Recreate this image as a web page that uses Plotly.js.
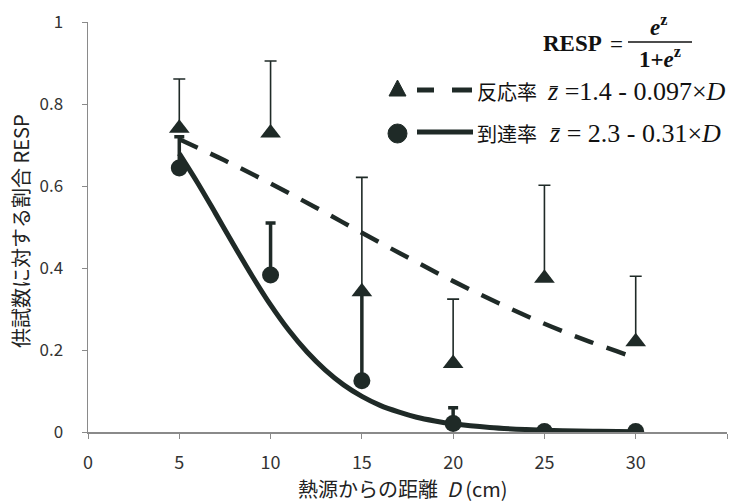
<!DOCTYPE html>
<html><head><meta charset="utf-8">
<script src="https://cdn.plot.ly/plotly-3.0.1.min.js"></script>
<style>html,body{margin:0;padding:0;background:#fff}#c{width:734px;height:502px}</style>
</head><body><div id="c"></div>
<script>
// distances D (cm)
const distances = [5, 10, 15, 20, 25, 30];
// 反応率 (triangles) and upper error ends
const respRate = [0.741, 0.729, 0.342, 0.167, 0.375, 0.220];
const respUpper = [0.861, 0.905, 0.621, 0.324, 0.602, 0.380];
// 到達率 (circles) and upper error ends
const reachRate = [0.644, 0.383, 0.125, 0.021, 0.001, 0.001];
const reachUpper = [0.720, 0.510, 0.340, 0.059, 0.001, 0.001];
// fitted curve 反応率 (dashed)
const dashX = [5, 7.5, 10, 12.5, 15, 17.5, 20, 22.5, 25, 27.5, 30];
const dashY = [0.714, 0.662, 0.606, 0.547, 0.486, 0.426, 0.368, 0.314, 0.264, 0.220, 0.181];
// fitted curve 到達率 (solid)
const solidX = [5, 6, 7, 8, 9, 10, 11, 12, 13, 14, 15, 16, 17, 18, 19, 20, 22, 24, 26, 28, 30];
const solidY = [0.679, 0.608, 0.532, 0.455, 0.380, 0.310, 0.248, 0.195, 0.151, 0.115, 0.087, 0.065, 0.049, 0.036, 0.027, 0.020, 0.011, 0.006, 0.003, 0.0017, 0.0009];
// tick labels
const xTicks = [0, 5, 10, 15, 20, 25, 30, 35];
const yTicks = [0, 0.2, 0.4, 0.6, 0.8, 1];
const yTickText = ['0', '0.2', '0.4', '0.6', '0.8', '1'];

const ink = '#1f2a27';
const W = 734, H = 502, L = 88, R = 7, T = 22, B = 70;
const pw = W - L - R, ph = H - T - B;
const px = v => (v - L) / pw;
const py = v => (H - B - v) / ph;

const traces = [
  {x: dashX, y: dashY, mode: 'lines', line: {color: ink, width: 4.5, dash: '20px,14px', shape: 'spline'}, hoverinfo: 'skip'},
  {x: solidX, y: solidY, mode: 'lines', line: {color: ink, width: 5, shape: 'spline'}, hoverinfo: 'skip'},
  {x: distances, y: reachRate, mode: 'markers',
   marker: {symbol: 'circle', size: 17, color: ink},
   error_y: {type: 'data', symmetric: false, array: reachUpper.map((u, i) => u - reachRate[i]), arrayminus: distances.map(() => 0), color: ink, thickness: 3.5, width: 5}},
  {x: distances, y: respRate, mode: 'markers',
   marker: {symbol: 'triangle-up', size: 18, color: ink},
   error_y: {type: 'data', symmetric: false, array: respUpper.map((u, i) => u - respRate[i]), arrayminus: distances.map(() => 0), color: ink, thickness: 1.6, width: 6}}
];

const serif = 'Liberation Serif, DejaVu Serif, serif';
const sansJ = 'Noto Sans CJK JP, Noto Sans, sans-serif';
const ann = (x, y, text, opts) => Object.assign({xref: 'paper', yref: 'paper', x: px(x), y: py(y), text: text, showarrow: false, xanchor: 'left', yanchor: 'middle'}, opts || {});

const annotations = [
  ann(604, 43, '<b>RESP</b>', {xanchor: 'right', font: {family: serif, size: 23, color: '#111'}}),
  ann(616, 44, '=', {xanchor: 'center', font: {family: serif, size: 23, color: '#111'}}),
  ann(658, 25, '<b><i>e</i><sup>z</sup></b>', {xanchor: 'center', font: {family: serif, size: 23, color: '#111'}}),
  ann(660, 58, '<b>1+<i>e</i><sup>z</sup></b>', {xanchor: 'center', font: {family: serif, size: 23, color: '#111'}}),
  ann(475, 91, '反応率', {font: {family: sansJ, size: 20, color: '#111'}}),
  ann(545, 91, '<i>z̄</i> =1.4 - 0.097×<i>D</i>', {font: {family: serif, size: 26, color: '#111'}}),
  ann(475, 133, '到達率', {font: {family: sansJ, size: 20, color: '#111'}}),
  ann(547, 133, '<i>z̄</i> = 2.3 - 0.31×<i>D</i>', {font: {family: serif, size: 26, color: '#111'}}),
  ann(402, 488, '熱源からの距離  <i>D</i> (cm)', {xanchor: 'center', font: {family: sansJ, size: 20, color: '#222'}}),
  ann(20, 231, '供試数に対する割合 RESP', {xanchor: 'center', textangle: -90, font: {family: sansJ, size: 20, color: '#222'}})
];

const shapes = [
  {type: 'line', xref: 'paper', yref: 'paper', x0: px(628), x1: px(692), y0: py(42), y1: py(42), line: {color: '#111', width: 1.3}},
  {type: 'line', xref: 'paper', yref: 'paper', x0: px(417), x1: px(434), y0: py(90), y1: py(90), line: {color: ink, width: 5}},
  {type: 'line', xref: 'paper', yref: 'paper', x0: px(452), x1: px(472), y0: py(90), y1: py(90), line: {color: ink, width: 5}},
  {type: 'line', xref: 'paper', yref: 'paper', x0: px(417), x1: px(473), y0: py(132), y1: py(132), line: {color: ink, width: 5}},
  {type: 'path', xref: 'paper', yref: 'paper', path: `M ${px(389)} ${py(96)} L ${px(406)} ${py(96)} L ${px(397.5)} ${py(80)} Z`, fillcolor: ink, line: {color: ink, width: 1}},
  {type: 'circle', xref: 'paper', yref: 'paper', x0: px(388), x1: px(407), y0: py(143), y1: py(124), fillcolor: ink, line: {color: ink, width: 1}}
];

const layout = {
  width: W, height: H,
  margin: {l: L, r: R, t: T, b: B},
  showlegend: false,
  paper_bgcolor: '#fff', plot_bgcolor: '#fff',
  xaxis: {range: [0, 35], tickvals: xTicks, ticktext: xTicks.map(String), showgrid: false, zeroline: false,
          showline: true, linecolor: '#8a8a8a', linewidth: 1.5, ticks: 'outside', ticklen: 5, tickcolor: '#8a8a8a',
          ticklabelstandoff: 9,
          tickfont: {family: sansJ, size: 18, color: '#333'}},
  yaxis: {range: [0, 1], tickvals: yTicks, ticktext: yTickText, showgrid: false, zeroline: false,
          showline: true, linecolor: '#8a8a8a', linewidth: 1.5, ticks: 'outside', ticklen: 5, tickcolor: '#8a8a8a',
          ticklabelstandoff: 15,
          tickfont: {family: sansJ, size: 17, color: '#333'}},
  annotations: annotations,
  shapes: shapes
};

Plotly.newPlot('c', traces, layout, {displayModeBar: false, staticPlot: true});
</script>
</body></html>
